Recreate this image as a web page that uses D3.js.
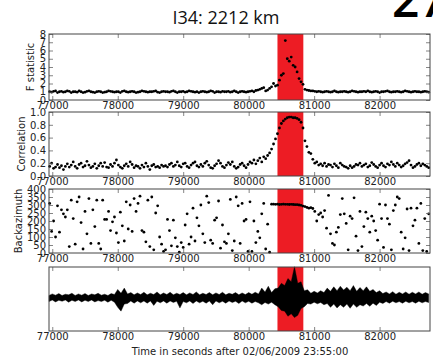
<!DOCTYPE html>
<html>
<head>
  <meta charset="utf-8">
  <title>I34: 2212 km</title>
  <script src="https://d3js.org/d3.v7.min.js"></script>
  <style type="text/css">
    body { margin: 0; background: #fff; }
    svg { display: block; }
    .tick text { font-family: "DejaVu Sans", sans-serif; font-size: 10px; fill: #222; }
    .tick line { stroke: #666; stroke-width: 0.8; }
    .frame { fill: none; stroke: #444; stroke-width: 1; }
    .ylab, .xlab { font-family: "DejaVu Sans", sans-serif; font-size: 10px; fill: #222; }
  </style>
</head>
<body>
<svg width="433" height="361"></svg>
<script type="text/javascript">
  // sampling of the three detector traces: one value every 30 s from 76960 s
  var tStart = 76960, tStep = 30;
  var xTicks = [77000, 78000, 79000, 80000, 81000, 82000];
  var detection = [80440, 80835]; // red window

  var fstat = [
    1.0,0.95,1.05,1.1,0.9,1.0,1.05,0.95,1.0,1.1,
    1.05,0.9,1.0,1.0,0.95,1.1,1.0,0.9,0.95,1.05,
    1.1,1.0,0.95,0.9,1.0,1.05,1.0,0.9,0.95,1.0,
    1.1,1.05,1.0,0.95,1.0,1.0,0.9,1.05,1.1,1.0,
    0.95,1.0,1.05,1.0,0.9,0.95,1.0,1.1,1.05,1.0,
    0.95,1.0,1.0,1.05,1.1,0.95,0.9,1.0,1.05,1.0,
    1.0,0.95,1.05,1.1,1.0,0.9,1.0,1.0,1.05,0.95,
    1.0,1.1,1.05,1.0,0.95,1.0,0.9,1.0,1.05,1.0,
    0.95,1.0,1.1,1.05,0.9,1.0,1.0,0.95,1.05,1.0,
    1.0,1.05,0.95,1.0,1.1,1.0,0.9,1.0,1.05,1.0,
    0.95,1.0,1.05,1.1,1.0,1.15,1.2,1.3,
    1.4,1.5,1.1,1.2,1.4,1.6,2.0,1.7,
    1.8,2.4,3.0,3.2,7.2,5.0,4.7,5.2,4.2,4.0,3.4,2.6,2.2,1.9,
    1.3,1.2,1.15,1.1,1.1,1.05,1.0,1.05,1.0,0.95,
    1.0,1.05,1.0,0.95,1.0,1.1,1.0,0.95,1.0,1.0,
    1.05,1.0,0.95,1.0,1.1,1.05,1.0,0.95,1.0,1.0,
    1.05,1.0,1.1,1.0,0.95,1.0,1.05,1.0,0.9,1.0,
    1.0,1.05,1.1,1.0,0.95,1.0,1.0,1.05,1.0,0.95,
    1.0,1.1,1.05,1.0,0.95,1.0,1.05,1.0,1.0,0.95,1.0,1.05,1.0,0.95
  ];

  var correlation = [
    0.15,0.2,0.12,0.14,0.18,0.13,0.16,0.1,0.15,0.19,
    0.14,0.17,0.22,0.15,0.12,0.18,0.2,0.14,0.16,0.23,
    0.17,0.13,0.15,0.19,0.12,0.16,0.2,0.15,0.21,0.14,
    0.13,0.18,0.15,0.2,0.25,0.17,0.14,0.12,0.16,0.19,
    0.15,0.22,0.18,0.13,0.16,0.15,0.12,0.17,0.14,0.2,
    0.15,0.1,0.16,0.18,0.14,0.15,0.13,0.17,0.15,0.16,
    0.14,0.18,0.2,0.15,0.17,0.22,0.16,0.14,0.19,0.2,
    0.15,0.13,0.17,0.2,0.22,0.16,0.14,0.18,0.15,0.2,
    0.23,0.17,0.13,0.12,0.16,0.19,0.24,0.2,0.15,0.13,
    0.17,0.21,0.18,0.22,0.15,0.12,0.14,0.18,0.2,0.16,
    0.13,0.18,0.22,0.2,0.25,0.19,0.24,0.28,0.22,0.3,0.27,0.32,0.36,0.42,0.5,0.58,
    0.66,0.75,0.82,0.86,0.89,0.91,0.92,0.92,0.91,0.91,0.9,0.88,0.84,0.75,
    0.55,0.46,0.37,0.35,0.26,0.2,0.22,0.17,0.19,0.16,
    0.2,0.15,0.18,0.17,0.14,0.19,0.16,0.13,0.2,0.17,
    0.15,0.14,0.12,0.16,0.13,0.15,0.18,0.17,0.2,0.15,
    0.17,0.19,0.14,0.16,0.21,0.18,0.15,0.13,0.17,0.2,
    0.16,0.14,0.19,0.17,0.22,0.18,0.15,0.2,0.17,0.14,
    0.16,0.19,0.21,0.24,0.17,0.13,0.15,0.18,0.2,0.16,0.19,0.17,0.15,0.13
  ];

  var backazimuth = [
    310,135,200,100,295,130,270,245,225,270,
    40,330,215,55,320,350,190,25,260,120,
    340,60,270,165,330,60,25,330,210,210,
    260,140,195,225,125,65,255,170,75,320,
    150,300,135,340,260,310,355,140,130,70,
    330,40,350,20,250,295,100,55,10,20,
    210,140,45,205,95,40,5,65,35,175,
    245,55,100,280,75,220,170,300,120,65,
    355,315,80,60,205,220,325,30,175,70,
    60,120,335,15,75,350,295,60,310,200,
    210,10,320,10,200,65,135,95,245,310,
    25,180,5,
    305,305,304,305,303,304,305,304,304,303,304,303,302,302,300,298,
    293,290,285,280,283,278,260,
    200,240,250,225,265,155,360,120,60,50,
    130,160,240,340,245,185,20,230,215,345,
    105,15,260,40,165,255,215,130,230,200,
    140,80,305,215,35,300,215,180,20,265,
    300,350,340,130,25,95,275,15,280,170,
    205,280,60,310,15,215,10,245
  ];

  // seismogram envelope, one value every 50 s from 76950 s
  var waveStart = 76950, waveStep = 50;
  var waveTop = [
    0.07,0.12,0.08,0.13,0.07,0.11,0.09,0.14,0.07,0.12,
    0.08,0.13,0.07,0.12,0.09,0.14,0.08,0.11,0.07,0.13,
    0.1,0.26,0.14,0.3,0.12,0.16,0.09,0.15,0.1,0.17,
    0.09,0.14,0.1,0.18,0.09,0.15,0.1,0.17,0.09,0.14,
    0.1,0.16,0.09,0.15,0.1,0.18,0.09,0.14,0.1,0.16,
    0.09,0.15,0.1,0.17,0.09,0.14,0.11,0.16,0.09,0.15,
    0.1,0.16,0.11,0.17,0.12,0.3,0.18,0.36,0.16,0.28,
    0.3,0.45,0.38,0.6,0.5,0.97,0.45,0.5,0.22,0.25,
    0.14,0.2,0.15,0.22,0.16,0.3,0.2,0.34,0.22,0.36,
    0.24,0.33,0.22,0.38,0.2,0.32,0.22,0.34,0.2,0.26,
    0.16,0.22,0.13,0.18,0.12,0.19,0.11,0.17,0.12,0.18,
    0.11,0.17,0.12,0.18,0.11,0.16,0.12
  ];
  var waveBottom = [
    0.12,0.07,0.13,0.08,0.11,0.07,0.14,0.08,0.12,0.07,
    0.13,0.08,0.12,0.07,0.13,0.09,0.12,0.08,0.14,0.08,
    0.14,0.3,0.42,0.2,0.18,0.1,0.17,0.1,0.16,0.1,
    0.17,0.1,0.24,0.11,0.16,0.1,0.17,0.1,0.15,0.11,
    0.32,0.12,0.16,0.1,0.18,0.1,0.16,0.11,0.17,0.1,
    0.22,0.1,0.16,0.11,0.17,0.1,0.15,0.11,0.18,0.1,
    0.16,0.11,0.17,0.12,0.16,0.22,0.15,0.2,0.14,0.22,
    0.28,0.4,0.42,0.58,0.5,0.62,0.55,0.34,0.28,0.18,
    0.2,0.14,0.19,0.15,0.22,0.18,0.3,0.2,0.32,0.22,
    0.3,0.2,0.33,0.2,0.3,0.22,0.26,0.18,0.27,0.17,
    0.24,0.14,0.18,0.12,0.17,0.11,0.16,0.12,0.17,0.11,
    0.16,0.12,0.17,0.11,0.16,0.12,0.15
  ];

  var svg = d3.select("svg");
  var left = 49, right = 430;

  var x = d3.scaleLinear().domain([76950, 82770]).range([left, right]);

  var panels = [
    { top: 34, bottom: 100, domain: [0, 8], ticks: d3.range(0, 9), fmt: d3.format("d"), label: "F statistic", lx: 33.5, values: fstat },
    { top: 112, bottom: 176, domain: [0, 1], ticks: d3.range(0, 1.01, 0.2), fmt: d3.format(".1f"), label: "Correlation", lx: 25, values: correlation },
    { top: 189, bottom: 253, domain: [0, 400], ticks: d3.range(0, 401, 50), fmt: d3.format("d"), label: "Backazimuth", lx: 22, values: backazimuth },
    { top: 267, bottom: 331, domain: [-1.04, 0.96], ticks: [], fmt: null, label: null, values: null }
  ];

  panels.forEach(function(p, k) {
    var y = d3.scaleLinear().domain(p.domain).range([p.bottom, p.top]);
    var g = svg.append("g");

    // detection window
    g.append("rect")
      .attr("x", x(detection[0]))
      .attr("y", p.top)
      .attr("width", x(detection[1]) - x(detection[0]))
      .attr("height", p.bottom - p.top)
      .attr("fill", "#ed1c24");

    if (p.values) {
      g.selectAll("circle")
        .data(p.values)
        .enter().append("circle")
        .attr("cx", function(d, i) { return x(tStart + i * tStep); })
        .attr("cy", function(d) { return y(d); })
        .attr("r", 1.4)
        .attr("fill", "#000");
    } else {
      var area = d3.area()
        .x(function(d, i) { return x(waveStart + i * waveStep); })
        .y0(function(d, i) { return y(-waveBottom[i]); })
        .y1(function(d) { return y(d); });
      g.append("path")
        .datum(waveTop)
        .attr("d", area)
        .attr("fill", "#000")
        .attr("stroke", "#000")
        .attr("stroke-width", 0.4);
    }

    // axes, ticks pointing inward like matplotlib
    var xb = g.append("g").attr("transform", "translate(0," + p.bottom + ")")
      .call(d3.axisBottom(x).tickValues(xTicks).tickSize(-4).tickPadding(2).tickFormat(d3.format("d")));
    var xt = g.append("g").attr("transform", "translate(0," + p.top + ")")
      .call(d3.axisTop(x).tickValues(xTicks).tickSize(-4).tickFormat(""));
    var yl = g.append("g").attr("transform", "translate(" + left + ",0)")
      .call(d3.axisLeft(y).tickValues(p.ticks).tickSize(-4).tickPadding(3).tickFormat(p.fmt || ""));
    var yr = g.append("g").attr("transform", "translate(" + right + ",0)")
      .call(d3.axisRight(y).tickValues(p.ticks).tickSize(-4).tickFormat(""));
    [xb, xt, yl, yr].forEach(function(a) {
      a.select(".domain").remove();
      a.attr("font-family", null).attr("font-size", null);
    });

    g.append("rect").attr("class", "frame")
      .attr("x", left).attr("y", p.top)
      .attr("width", right - left).attr("height", p.bottom - p.top);

    if (p.label) {
      g.append("text").attr("class", "ylab")
        .attr("transform", "translate(" + p.lx + "," + ((p.top + p.bottom) / 2) + ") rotate(-90)")
        .attr("text-anchor", "middle")
        .text(p.label);
    }
  });

  svg.append("text").attr("class", "xlab")
    .attr("x", 240).attr("y", 355)
    .attr("text-anchor", "middle")
    .text("Time in seconds after 02/06/2009 23:55:00");

  svg.append("text")
    .attr("x", 226).attr("y", 24)
    .attr("text-anchor", "middle")
    .style("font-family", "'Open Sans', sans-serif")
    .style("font-size", "18px")
    .attr("fill", "#111")
    .text("I34:  2212 km");

  svg.append("text")
    .attr("x", 392).attr("y", 17)
    .style("font-family", "'Open Sans', sans-serif")
    .style("font-size", "48px")
    .style("font-weight", "600")
    .attr("fill", "#000")
    .text("27");
</script>
</body>
</html>
